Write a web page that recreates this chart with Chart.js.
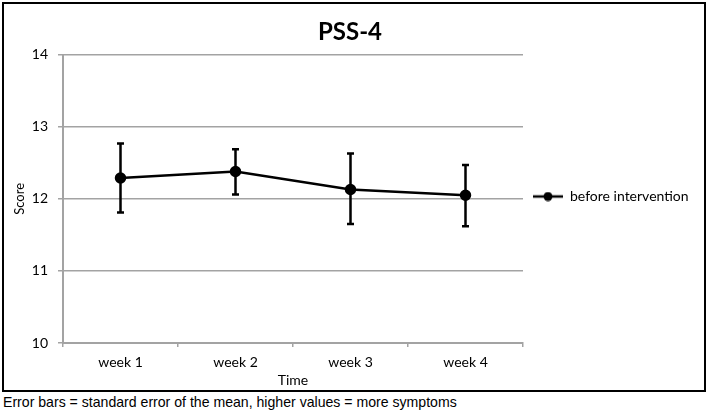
<!DOCTYPE html>
<html lang="en">
<head>
  <meta charset="UTF-8" />
  <title>PSS-4</title>
  <script src="https://cdn.jsdelivr.net/npm/chart.js"></script>
  <style>
    body { margin: 0; padding: 0; background: #fff; }
    #wrap { position: relative; width: 709px; height: 413px; }
    #chart { position: absolute; left: 0; top: 0; }
    #note {
      position: absolute; left: 3px; top: 393px;
      font-family: "Liberation Sans", Arial, sans-serif;
      font-size: 15px; color: #000; white-space: nowrap;
      transform: scaleX(0.94); transform-origin: 0 0;
    }
  </style>
</head>
<body>
  <div id="wrap">
    <canvas id="chart" width="709" height="393"></canvas>
    <div id="note">Error bars = standard error of the mean, higher values = more symptoms</div>
  </div>

  <script>
    const weeks = ['week 1', 'week 2', 'week 3', 'week 4'];
    const scoreMean = [12.29, 12.38, 12.13, 12.05];
    const scoreUpper = [12.77, 12.69, 12.63, 12.47];
    const scoreLower = [11.81, 12.06, 11.65, 11.62];

    const FONT = "Lato, 'Open Sans', sans-serif";
    const GRID = '#a3a3a3';

    // legend marker: line with a dot in the middle
    const marker = document.createElement('canvas');
    marker.width = 30; marker.height = 10;
    const mctx = marker.getContext('2d');
    mctx.strokeStyle = '#000'; mctx.lineWidth = 2.5;
    mctx.beginPath(); mctx.moveTo(0, 5); mctx.lineTo(30, 5); mctx.stroke();
    mctx.fillStyle = '#000';
    mctx.beginPath(); mctx.arc(15, 5, 4.5, 0, Math.PI * 2); mctx.fill();

    const errorBars = {
      id: 'errorBars',
      afterDatasetsDraw(chart) {
        const { ctx, scales: { x, y } } = chart;
        ctx.save();
        ctx.strokeStyle = '#000';
        ctx.lineWidth = 2.5;
        for (let i = 0; i < scoreMean.length; i++) {
          const px = x.getPixelForValue(i);
          const top = y.getPixelForValue(scoreUpper[i]);
          const bot = y.getPixelForValue(scoreLower[i]);
          ctx.beginPath();
          ctx.moveTo(px, top); ctx.lineTo(px, bot);
          ctx.moveTo(px - 3.5, top); ctx.lineTo(px + 3.5, top);
          ctx.moveTo(px - 3.5, bot); ctx.lineTo(px + 3.5, bot);
          ctx.stroke();
        }
        ctx.restore();
      }
    };

    const frame = {
      id: 'frame',
      afterDraw(chart) {
        const ctx = chart.ctx;
        ctx.save();
        ctx.strokeStyle = '#000';
        ctx.lineWidth = 2;
        ctx.strokeRect(3, 3, 702, 388);
        ctx.restore();
      }
    };

    new Chart(document.getElementById('chart'), {
      type: 'line',
      data: {
        labels: weeks,
        datasets: [{
          label: 'before intervention',
          data: scoreMean,
          borderColor: '#000',
          backgroundColor: '#000',
          borderWidth: 2.5,
          pointRadius: 4.5,
          pointHoverRadius: 4.5,
          pointStyle: 'circle',
          tension: 0
        }]
      },
      options: {
        responsive: false,
        animation: false,
        layout: { padding: { top: 4, left: 4, right: 13, bottom: 4 } },
        scales: {
          x: {
            offset: true,
            grid: { offset: true, drawOnChartArea: false, color: GRID, lineWidth: 1.5, tickLength: 4 },
            border: { color: GRID, width: 2 },
            ticks: { color: '#000', padding: 7, font: { family: FONT, size: 14 } },
            title: { display: true, text: 'Time', color: '#000', padding: 0, font: { family: FONT, size: 14 } },
            afterFit(s) { s.height = 46; }
          },
          y: {
            min: 10, max: 14,
            ticks: { stepSize: 1, color: '#000', padding: 10, font: { family: FONT, size: 14 } },
            grid: { color: GRID, lineWidth: 1.5, tickLength: 5 },
            border: { color: GRID, width: 2 },
            title: { display: true, text: 'Score', color: '#000', padding: { top: 8, bottom: 0 }, font: { family: FONT, size: 13 } },
            afterFit(s) { s.width = 59; }
          }
        },
        plugins: {
          title: {
            display: true, text: 'PSS-4', color: '#000',
            font: { family: FONT, size: 24, weight: 'bold' },
            padding: { top: 14, bottom: 8 }
          },
          legend: {
            position: 'right',
            labels: {
              usePointStyle: true,
              pointStyle: marker,
              pointStyleWidth: 30,
              color: '#000',
              font: { family: FONT, size: 14 }
            }
          },
          tooltip: { enabled: false }
        }
      },
      plugins: [errorBars, frame]
    });
  </script>
</body>
</html>
